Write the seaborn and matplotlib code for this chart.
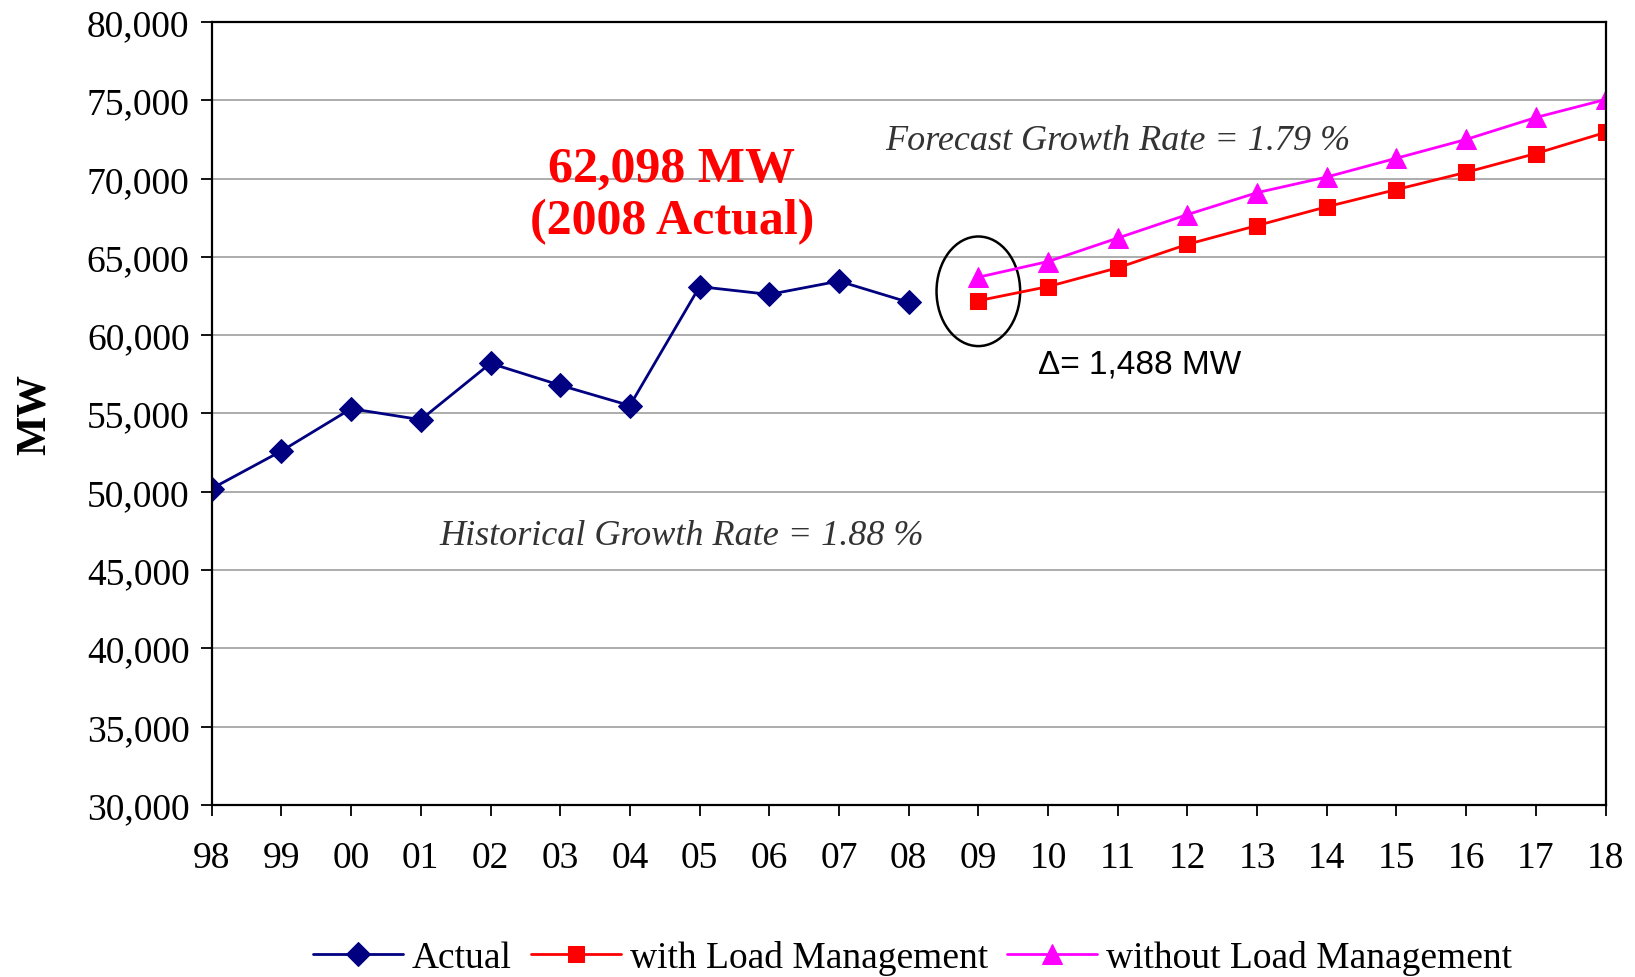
import numpy as np
import pandas as pd
import matplotlib
matplotlib.use("Agg")
import matplotlib.pyplot as plt
from matplotlib.patches import Ellipse
import seaborn as sns

years = ['98', '99', '00', '01', '02', '03', '04', '05', '06', '07',
         '08', '09', '10', '11', '12', '13', '14', '15', '16', '17', '18']
actual = [50200, 52600, 55300, 54600, 58200, 56800, 55500, 63100, 62600, 63450, 62098]
with_lm = [62200, 63100, 64300, 65800, 67000, 68200, 69300, 70400, 71600, 72950]
without_lm = [63700, 64700, 66200, 67700, 69100, 70100, 71300, 72500, 73900, 75050]

x_actual = np.arange(len(actual))
x_fc = np.arange(len(actual), len(years))

sns.set_style("white")
plt.rcParams['font.family'] = ['Liberation Serif', 'DejaVu Serif']
plt.rcParams['text.color'] = 'black'
plt.rcParams['xtick.color'] = 'black'
plt.rcParams['ytick.color'] = 'black'

fig = plt.figure(figsize=(16.35, 9.78), dpi=100)
ax = fig.add_axes([0.1295, 0.176, 0.8525, 0.8005])

sns.lineplot(x=x_actual, y=actual, ax=ax, color='#000080', marker='D',
             markersize=12, linewidth=2, markeredgecolor='#000080', label='Actual')
sns.lineplot(x=x_fc, y=with_lm, ax=ax, color='#FF0000', marker='s',
             markersize=12, linewidth=2, markeredgecolor='#FF0000', label='with Load Management')
sns.lineplot(x=x_fc, y=without_lm, ax=ax, color='#FF00FF', marker='^',
             markersize=14, linewidth=2, markeredgecolor='#FF00FF', label='without Load Management')

ax.set_xlim(0, len(years) - 1)
ax.set_ylim(30000, 80000)
ax.set_xticks(np.arange(len(years)))
ax.set_xticklabels(years)
yt = np.arange(30000, 80001, 5000)
ax.set_yticks(yt)
ax.set_yticklabels([f'{v:,}' for v in yt])
ax.tick_params(axis='both', direction='out', length=8, width=1.3, labelsize=27,
               labelcolor='black', color='black', bottom=True, left=True)
ax.tick_params(axis='x', pad=18)
ax.tick_params(axis='y', pad=8)
ax.yaxis.grid(True, color='#A6A6A6', linewidth=1.3)
ax.set_axisbelow(True)
for s in ax.spines.values():
    s.set_color('black')
    s.set_linewidth(1.6)
ax.set_xlabel('')
ax.set_ylabel('MW', fontsize=30, fontweight='bold', labelpad=24, color='black')

# annotations
ax.text(6.6, 68950, '62,098 MW\n(2008 Actual)', color='#FF0000', fontsize=36,
        fontweight='bold', ha='center', va='center', linespacing=1.2)
ax.text(13.0, 72450, 'Forecast Growth Rate = 1.79 %', fontsize=26,
        style='italic', color='#333333', ha='center', va='center')
ax.text(6.75, 47200, 'Historical Growth Rate = 1.88 %', fontsize=26,
        style='italic', color='#333333', ha='center', va='center')
ax.text(11.85, 58150, '\u0394= 1,488 MW', fontsize=24,
        family=['Liberation Sans', 'DejaVu Sans'], color='black', ha='left', va='center')
ell = Ellipse((x_fc[0], (with_lm[0] + without_lm[0]) / 2 - 150), width=1.2, height=7000,
              fill=False, edgecolor='black', linewidth=1.8)
ax.add_patch(ell)

handles, labels = ax.get_legend_handles_labels()
ax.get_legend().remove()
fig.legend(handles, labels, loc='center', bbox_to_anchor=(0.558, 0.02), ncol=3,
           frameon=False, fontsize=27, handlelength=2.4, columnspacing=0.5,
           handletextpad=0.25, borderpad=0)

fig.savefig('out.png', dpi=100)
